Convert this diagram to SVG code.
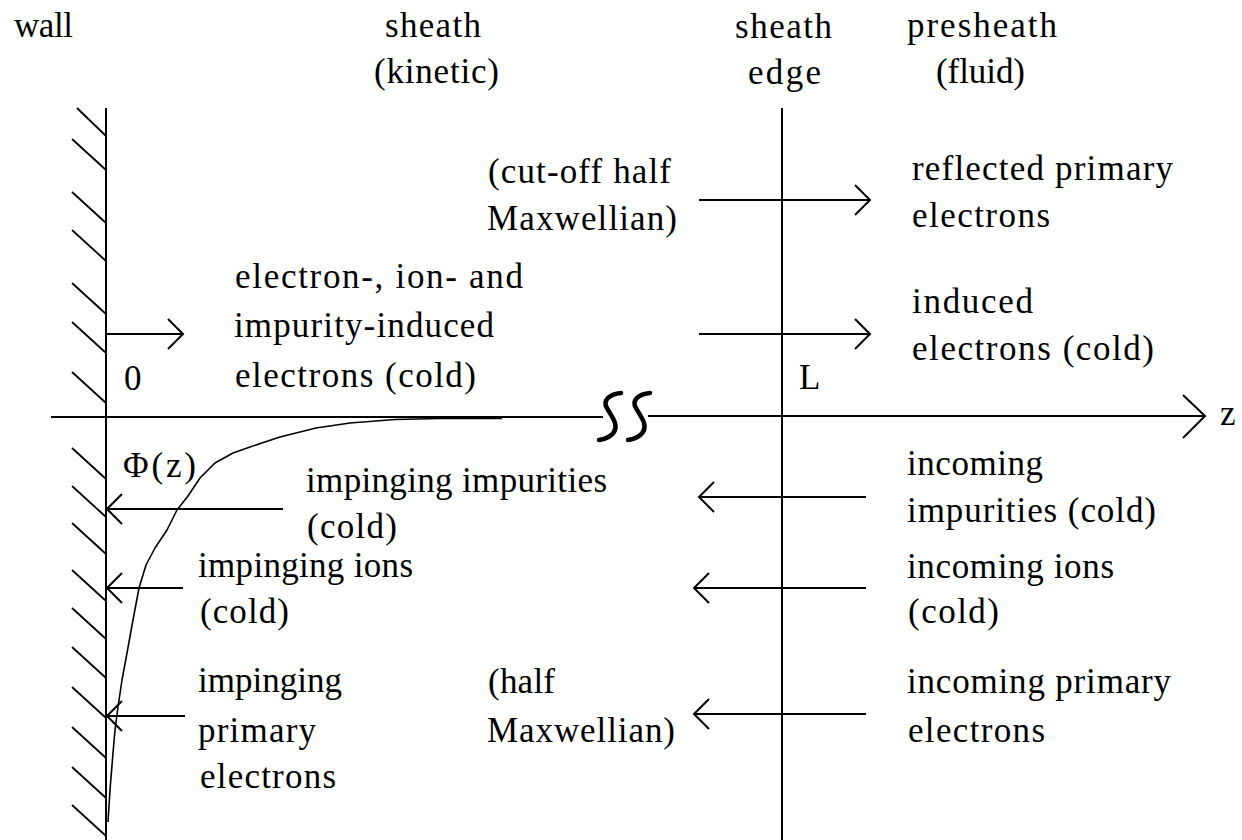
<svg xmlns="http://www.w3.org/2000/svg" width="1242" height="840" viewBox="0 0 1242 840">
<style>
.t{font-size:35px;fill:#000}
.ln{stroke:#000;stroke-width:2;fill:none}
.hatch{stroke:#000;stroke-width:1.8;fill:none}
.arr{stroke:#000;stroke-width:2;fill:none;marker-end:url(#ah)}
.brk{stroke:#000;stroke-width:4.5;fill:none;stroke-linecap:round}
</style>
<defs>
<marker id="ah" markerUnits="userSpaceOnUse" markerWidth="20" markerHeight="36" viewBox="-18 -18 20 36" refX="0" refY="0" orient="auto" overflow="visible">
<path d="M-15,-15 L0,0 L-15,15" fill="none" stroke="#000" stroke-width="2"/>
</marker>
</defs>
<rect width="1242" height="840" fill="#fff"/>

<g id="wall">
<path class="ln" d="M106,108 V840"/>
<path class="hatch" d="M77,108 l29,28 M72,139 l34,31 M72,192 l34,31 M72,230 l34,31 M72,283 l34,31 M72,322 l34,31 M72,372 l34,31 M72,448 l34,31 M72,486 l34,31 M72,523 l34,31 M72,570 l34,31 M72,608 l34,31 M72,647 l34,31 M72,687 l34,31 M72,727 l34,31 M72,767 l34,31 M72,805 l34,31"/>
</g>

<g id="sheath-edge-line">
<path class="ln" d="M782,108 V840"/>
</g>

<g id="z-axis">
<path class="ln" d="M51,417 H603"/>
<path class="ln" d="M648,416 H1205"/>
<path class="ln" d="M1183,395 L1205,416 L1183,438"/>
<path class="brk" d="M621,393 C610,394 602,400 607,408 C611,416 619,424 614,432 C611,437 605,439 599,440"/>
<path class="brk" d="M650,393 C639,394 631,400 636,408 C640,416 648,424 643,432 C640,437 634,439 628,440"/>
</g>

<g id="potential-curve">
<polyline fill="none" stroke="#000" stroke-width="1.6" stroke-linejoin="round" points="502,418.5 440,418.5 395,419.5 350,423 316,428 280,437 250,447 233,453 215,463 200,478 188,496 177,510 167,530 155,548 146,565 139,588 133,620 127,653 122,680 118,707 115,730 113,753 110,790 108,822"/>
</g>

<g id="connectors">
<path class="arr" d="M106,334 H183"/>
<path class="arr" d="M699,200 H870"/>
<path class="arr" d="M699,334 H870"/>
<path class="arr" d="M866,497 H699"/>
<path class="arr" d="M866,588 H694"/>
<path class="arr" d="M866,714 H694"/>
<path class="arr" d="M283,509 H107"/>
<path class="arr" d="M183,588 H107"/>
<path class="arr" d="M185,716 H107"/>
</g>

<g id="labels" font-family="Liberation Serif, DejaVu Serif, serif">
<g id="header-wall"><text class="t" x="14" y="37" textLength="59">wall</text></g>
<g id="header-sheath">
<text class="t" x="385" y="37" textLength="96">sheath</text>
<text class="t" x="374" y="83" textLength="125">(kinetic)</text>
</g>
<g id="header-sheath-edge">
<text class="t" x="735" y="38" textLength="97">sheath</text>
<text class="t" x="748" y="84" textLength="73">edge</text>
</g>
<g id="header-presheath">
<text class="t" x="907" y="37" textLength="150">presheath</text>
<text class="t" x="936" y="83" textLength="89">(fluid)</text>
</g>

<g id="label-cutoff">
<text class="t" x="488" y="183" textLength="183">(cut-off half</text>
<text class="t" x="487" y="230" textLength="190">Maxwellian)</text>
</g>
<g id="label-reflected">
<text class="t" x="912" y="180" textLength="261">reflected primary</text>
<text class="t" x="912" y="227" textLength="138">electrons</text>
</g>
<g id="label-induced-left">
<text class="t" x="235" y="288" textLength="288">electron-, ion- and</text>
<text class="t" x="234" y="337" textLength="260">impurity-induced</text>
<text class="t" x="235" y="387" textLength="241">electrons (cold)</text>
</g>
<g id="label-induced-right">
<text class="t" x="912" y="313" textLength="121">induced</text>
<text class="t" x="912" y="360" textLength="242">electrons (cold)</text>
</g>
<g id="label-0"><text class="t" x="124" y="390">0</text></g>
<g id="label-L"><text class="t" x="799" y="389">L</text></g>
<g id="label-z"><text class="t" x="1220" y="425">z</text></g>
<g id="label-phi"><text class="t" x="123" y="477" textLength="73">Φ(z)</text></g>

<g id="label-imp-impurities">
<text class="t" x="306" y="492" textLength="301">impinging impurities</text>
<text class="t" x="307" y="538" textLength="90">(cold)</text>
</g>
<g id="label-imp-ions">
<text class="t" x="198" y="577" textLength="215">impinging ions</text>
<text class="t" x="200" y="623" textLength="89">(cold)</text>
</g>
<g id="label-imp-electrons">
<text class="t" x="198" y="692" textLength="144">impinging</text>
<text class="t" x="198" y="742" textLength="118">primary</text>
<text class="t" x="200" y="788" textLength="136">electrons</text>
</g>
<g id="label-half">
<text class="t" x="488" y="693" textLength="67">(half</text>
<text class="t" x="487" y="742" textLength="188">Maxwellian)</text>
</g>
<g id="label-inc-impurities">
<text class="t" x="907" y="475" textLength="136">incoming</text>
<text class="t" x="907" y="522" textLength="249">impurities (cold)</text>
</g>
<g id="label-inc-ions">
<text class="t" x="907" y="578" textLength="207">incoming ions</text>
<text class="t" x="908" y="623" textLength="91">(cold)</text>
</g>
<g id="label-inc-electrons">
<text class="t" x="907" y="693" textLength="264">incoming primary</text>
<text class="t" x="908" y="742" textLength="137">electrons</text>
</g>
</g>
</svg>
